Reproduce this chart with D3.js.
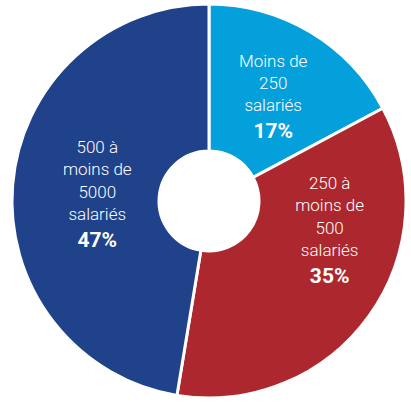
<!DOCTYPE html>
<html><head><meta charset="utf-8">
<script src="https://cdn.jsdelivr.net/npm/d3@7"></script>
<style>html,body{margin:0;padding:0;background:#fff;}svg{display:block;}</style>
</head><body>
<svg id="chart" width="411" height="404"></svg>
<script>
const categories = ["Moins de 250 salariés", "250 à moins de 500 salariés", "500 à moins de 5000 salariés"];
const values = [17.2, 35.4, 47.4];
const percentLabels = ["17%", "35%", "47%"];
const labelLines = [["Moins de", "250", "salariés"], ["250 à", "moins de", "500", "salariés"], ["500 à", "moins de", "5000", "salariés"]];
const colors = ["#04a0dc", "#ad282e", "#1f428a"];

const cx = 209, cy = 201, outerR = 197, innerR = 50;
const labelRadius = [123, 124, 112];
const labelAngleOffset = [0.5, -22.3, -0.9]; // degrees
const lineH = 22.3, boldGap = 27, capH = 13;

const svg = d3.select("#chart");
const g = svg.append("g").attr("transform", `translate(${cx},${cy})`);

const pie = d3.pie().sort(null).value(d => d)(values);
const arc = d3.arc().innerRadius(innerR).outerRadius(outerR);

g.selectAll("path.slice").data(pie).join("path")
  .attr("class", "slice")
  .attr("d", arc)
  .attr("fill", (d, i) => colors[i])
  .attr("stroke", "#fff")
  .attr("stroke-width", 3)
  .attr("stroke-linejoin", "miter");

pie.forEach((d, i) => {
  const a = (d.startAngle + d.endAngle) / 2 + labelAngleOffset[i] * Math.PI / 180;
  const r = labelRadius[i];
  const x = r * Math.sin(a), y = -r * Math.cos(a);
  const lines = labelLines[i];
  const blockH = capH + lineH * (lines.length - 1) + boldGap;
  const firstBase = y - blockH / 2 + capH;
  const t = g.append("text")
    .attr("text-anchor", "middle")
    .attr("fill", "#fff")
    .style("font-family", "Roboto, 'Noto Sans', sans-serif");
  lines.forEach((ln, k) => {
    t.append("tspan").attr("x", x).attr("y", firstBase + k * lineH)
      .style("font-size", "17px").style("font-weight", 300).text(ln);
  });
  t.append("tspan").attr("x", x).attr("y", firstBase + (lines.length - 1) * lineH + boldGap)
    .style("font-size", "21px").style("font-weight", 700).text(percentLabels[i]);
});
</script>
</body></html>
